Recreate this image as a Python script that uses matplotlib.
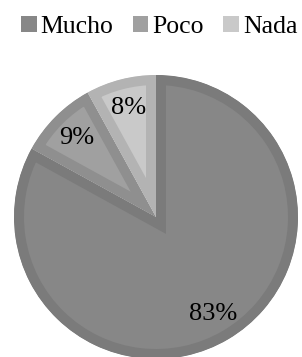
import matplotlib.pyplot as plt
from matplotlib.patches import Patch

labels = ["Mucho", "Poco", "Nada"]
values = [83, 9, 8]
fills = ["#878787", "#a0a0a0", "#c9c9c9"]
edges = ["#7b7b7b", "#8f8f8f", "#b3b3b3"]

plt.rcParams["font.family"] = ["Liberation Serif", "DejaVu Serif"]

fig = plt.figure(figsize=(3.02, 3.57), dpi=100)
ax = fig.add_axes([14 / 302, -2 / 357, 284 / 302, 284 / 357])

wedges, texts, autotexts = ax.pie(
    values, colors=fills, startangle=90, counterclock=False,
    autopct="%.0f%%", pctdistance=0.79, radius=1,
    wedgeprops=dict(linewidth=14.4),
    textprops=dict(fontsize=19, color="black"),
)
# inner border only: clip each wedge's stroke to its own shape
for w, ec in zip(wedges, edges):
    w.set_edgecolor(ec)
    w.set_clip_path(w)
    w.set_clip_on(True)

ax.set_xlim(-1, 1)
ax.set_ylim(-1, 1)
ax.set_aspect("equal")
ax.axis("off")

handles = [Patch(facecolor=c, edgecolor="none") for c in fills]
fig.legend(handles, labels, loc="center", bbox_to_anchor=(159 / 302, 1 - 27 / 357),
           ncol=3, frameon=False, fontsize=18.5, handlelength=0.62, handleheight=0.62,
           handletextpad=0.15, columnspacing=0.75, borderaxespad=0, borderpad=0)

fig.savefig("out.png", dpi=100)
